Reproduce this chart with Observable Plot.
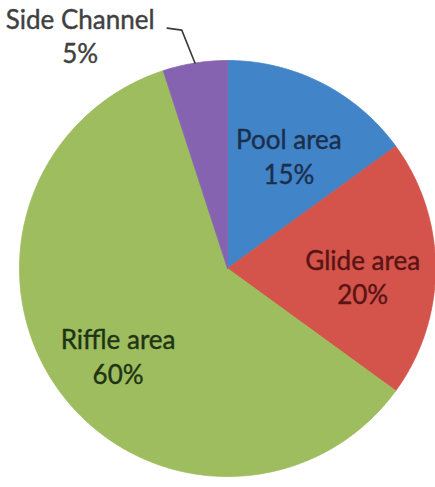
<!DOCTYPE html>
<html><head><meta charset="utf-8">
<script src="https://cdn.jsdelivr.net/npm/d3@7"></script>
<script src="https://cdn.jsdelivr.net/npm/@observablehq/plot@0.6"></script>
<style>body{margin:0;background:#fff}</style>
</head><body><div id="chart"></div>
<script>
const categories = ["Pool area", "Glide area", "Riffle area", "Side Channel"];
const shares = [15, 20, 60, 5];
const sliceColors = ["#4284c8", "#d4534b", "#9dbd5e", "#8663b0"];
const labelColors = ["#1b2f4c", "#5a1414", "#1f3414", "#404040"];

// layout
const W = 435, H = 487, R = 208, CX = 227, CY = 268;
const labelRadius = 0.65;

const data = categories.map((name, i) => ({name, value: shares[i], labelColor: labelColors[i]}));
const arcs = d3.pie().value(d => d.value).sort(null)(data);

const pts = [];
for (const a of arcs) {
  const name = a.data.name;
  pts.push({name, x: 0, y: 0});
  const n = Math.max(2, Math.ceil((a.endAngle - a.startAngle) / (Math.PI / 360)));
  for (let k = 0; k <= n; k++) {
    const t = a.startAngle + (a.endAngle - a.startAngle) * k / n;
    pts.push({name, x: Math.sin(t), y: Math.cos(t)});
  }
  pts.push({name, x: 0, y: 0});
}

const mid = a => (a.startAngle + a.endAngle) / 2;
const inside = arcs.filter(a => a.data.value >= 10).map(a => ({
  text: a.data.name + "\n" + a.data.value + "%",
  color: a.data.labelColor,
  x: labelRadius * Math.sin(mid(a)),
  y: labelRadius * Math.cos(mid(a)) - 0.035
}));
const outsideArcs = arcs.filter(a => a.data.value < 10);
const leader = [];
const outside = [];
for (const a of outsideArcs) {
  const m = mid(a);
  const p0 = {name: a.data.name, x: Math.sin(m), y: Math.cos(m)};
  const p1 = {name: a.data.name, x: 1.15 * Math.sin(m) - 0.04, y: 1.15 * Math.cos(m) + 0.01};
  const p2 = {name: a.data.name, x: p1.x - 0.07, y: p1.y + 0.01};
  leader.push(p0, p1, p2);
  outside.push({text: a.data.name + "\n" + a.data.value + "%", color: a.data.labelColor, x: p2.x, y: p2.y});
}

const chart = Plot.plot({
  width: W, height: H, margin: 0,
  x: {domain: [-CX / R, (W - CX) / R], axis: null},
  y: {domain: [(CY - H) / R, CY / R], axis: null},
  color: {domain: categories, range: sliceColors},
  style: {fontFamily: "Lato, 'Open Sans', sans-serif", background: "#fff"},
  marks: [
    Plot.line(pts, {x: "x", y: "y", z: "name", fill: "name", stroke: "name", strokeWidth: 0.8, curve: "linear"}),
    Plot.line(leader, {x: "x", y: "y", z: "name", stroke: "#3a3a3a", strokeWidth: 1.6}),
    Plot.text(inside, {x: "x", y: "y", text: "text", fill: "color", fontSize: 26, lineHeight: 1.33, lineAnchor: "middle", textAnchor: "middle", stroke: "color", strokeWidth: 0.4}),
    Plot.text(outside, {x: "x", y: "y", text: "text", fill: "color", fontSize: 26, lineHeight: 1.33, lineAnchor: "middle", textAnchor: "middle", dx: -87, dy: 7, stroke: "color", strokeWidth: 0.4})
  ]
});
document.getElementById("chart").append(chart);
</script>
</body></html>
